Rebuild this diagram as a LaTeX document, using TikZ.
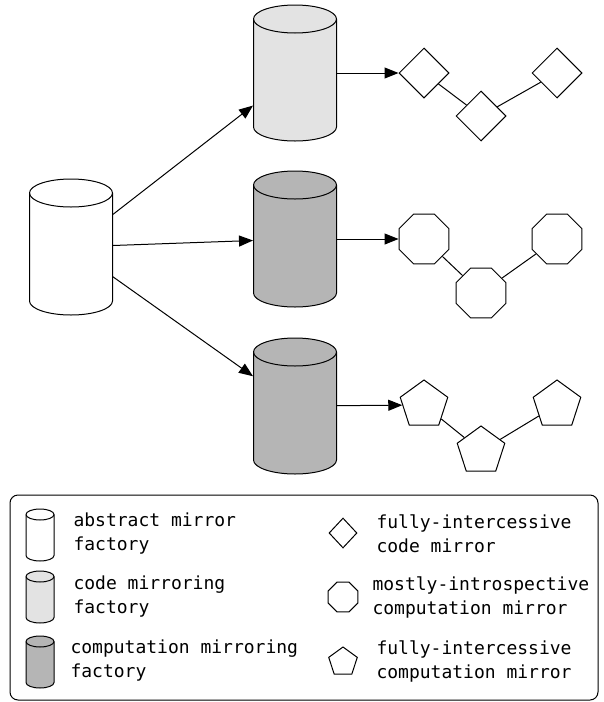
\documentclass[tikz,border=0pt]{standalone}
\usepackage{fontspec}
\setmonofont{DejaVu Sans Mono}
\usepackage{tikz}
\usetikzlibrary{shapes,arrows,arrows.meta,positioning}
\definecolor{codegray}{HTML}{E3E3E3}
\definecolor{compgray}{HTML}{B5B5B5}
\tikzset{
      % tank = {fill}{half width}{half height}{cap radius}
      tank/.style n args = {4}{rectangle, inner sep=0pt, outer sep=0pt,
          minimum width={2*#2*1pt+1pt}, minimum height={2*#3*1pt+1pt},
          path picture={
            \begin{scope}[shift={(path picture bounding box.center)}, line width=1pt]
              \filldraw[fill=#1] (-#2,{#4-#3}) -- (-#2,{#3-#4})
                  arc[start angle=180, end angle=360, x radius=#2pt, y radius=#4pt]
                  -- (#2,{#4-#3})
                  arc[start angle=0, end angle=180, x radius=#2pt, y radius=#4pt] -- cycle;
              \draw (-#2,{#4-#3}) arc[start angle=180, end angle=360, x radius=#2pt, y radius=#4pt];
            \end{scope}}},
      factory/.style   = {tank={#1}{41.5}{68}{14}},
      keyfactory/.style = {tank={#1}{14}{26}{5.5}},
      flow/.style = {black, -{Triangle[length=14pt,width=11pt]}},
      mirrorlink/.style = {black},
      codemirror/.style = {diamond, draw, fill=white, inner sep=0pt, minimum width=50pt, minimum height=50pt},
      intromirror/.style = {regular polygon, regular polygon sides=8, draw, fill=white, inner sep=0pt, minimum size=54pt},
      intermirror/.style = {regular polygon, regular polygon sides=5, draw, fill=white, inner sep=0pt, minimum size=50pt},
      keytext/.style = {anchor=west, align=left, inner sep=0pt, font=\ttfamily\fontsize{18}{24}\selectfont},
    }

\begin{document}
\begin{tikzpicture}[x=1pt,y=-1pt,line width=1pt,on grid]
          \useasboundingbox (0,0) rectangle (604,702);
          \node [factory=white] (abs) at (71,247) {};
          \node [factory=codegray] (code) at (295,73) {};
          \node [factory=compgray] (comp1) at (295,239) {};
          \node [factory=compgray] (comp2) at (295,406) {};

          \node [codemirror] (cm1) at (424,73) {};
          \node [codemirror, below right=43pt and 57pt of cm1] (cm2) {};
          \node [codemirror, right=133pt of cm1] (cm3) {};
          \node [intromirror] (im1) at (424,239) {};
          \node [intromirror, below right=54pt and 57pt of im1] (im2) {};
          \node [intromirror, right=133pt of im1] (im3) {};
          \node [intermirror] (pm1) at (424,405) {};
          \node [intermirror, below right=46pt and 57pt of pm1] (pm2) {};
          \node [intermirror, right=133pt of pm1] (pm3) {};

          \path (abs) edge[flow] (code);
          \path (abs) edge[flow] (comp1);
          \path (abs) edge[flow] (comp2);
          \path (code) edge[flow] (cm1);
          \path (comp1) edge[flow] (im1);
          \path (comp2) edge[flow] (pm1);
          \path (cm1) edge[mirrorlink] (cm2);
          \path (cm2) edge[mirrorlink] (cm3);
          \path (im1) edge[mirrorlink] (im2);
          \path (im2) edge[mirrorlink] (im3);
          \path (pm1) edge[mirrorlink] (pm2);
          \path (pm2) edge[mirrorlink] (pm3);

          % legend
          \draw [rounded corners=8pt] (10,495) rectangle (598,700);
          \node [keyfactory=white] (kabs) at (40,535) {};
          \node [keyfactory=codegray] (kcode) at (40,597) {};
          \node [keyfactory=compgray] (kcomp) at (40,662) {};
          \node [keytext] (tabs) at (73,534) {abstract mirror\\factory};
          \node [keytext] (tcode) at (73,597) {code mirroring\\factory};
          \node [keytext] (tcomp) at (70,661) {computation mirroring\\factory};
          \node [codemirror, minimum width=28pt, minimum height=30pt] (kcm) at (343,533) {};
          \node [intromirror, minimum size=32pt] (kim) at (343,597) {};
          \node [intermirror, minimum size=30pt] (kpm) at (343,662) {};
          \node [keytext] (tcm) at (376,534) {fully-intercessive\\code mirror};
          \node [keytext] (tim) at (372,597) {mostly-introspective\\computation mirror};
          \node [keytext] (tpm) at (376,661) {fully-intercessive\\computation mirror};
\end{tikzpicture}
\end{document}
